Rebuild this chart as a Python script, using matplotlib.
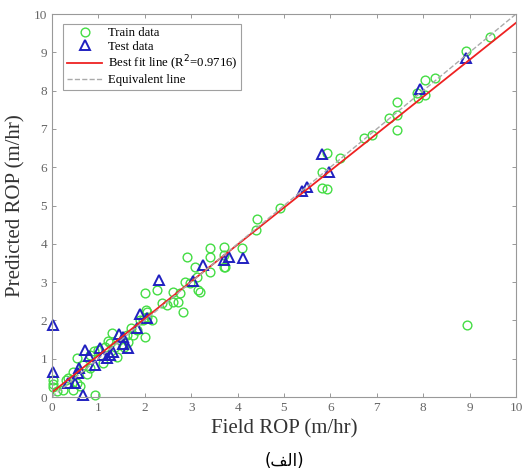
import numpy as np
import matplotlib
matplotlib.use("Agg")
import matplotlib.pyplot as plt

# train data (green circles)
train_x = [0.02, 0.02, 0.24, 0.45, 0.53, 0.34, 0.54, 0.67, 0.82, 0.92, 0.82, 1.0, 1.14, 1.25,
           1.29, 1.4, 1.64, 1.62, 1.83, 1.75, 1.9, 2.04, 2.0, 2.15, 2.04, 2.0, 2.26, 2.48, 2.6,
           2.76, 2.82, 2.9, 2.98, 3.19, 3.12, 3.08, 3.15, 2.87, 2.61, 2.72, 2.37, 2.03, 1.96,
           3.4, 3.4, 3.4, 3.7, 3.7, 3.7, 4.1, 3.73, 4.42, 4.4, 4.91, 5.82, 5.93, 5.82, 5.93,
           6.2, 6.72, 6.9, 7.26, 7.43, 7.43, 7.43, 7.89, 8.04, 7.87, 8.04, 8.25, 8.92, 9.44,
           8.94, 0.6, 0.75, 1.1, 1.2, 1.35, 0.9, 0.45, 0.1, 0.3, 1.55, 1.7, 0.02]
train_y = [0.44, 0.26, 0.18, 0.18, 0.37, 0.5, 1.02, 0.84, 0.76, 0.05, 1.1, 1.23, 1.31, 1.41,
           1.67, 1.05, 1.44, 1.62, 1.75, 1.62, 2.01, 2.1, 1.57, 2.01, 2.22, 2.72, 2.79, 2.4, 2.48,
           2.72, 2.22, 3.66, 2.98, 2.74, 3.13, 3.4, 2.79, 3.0, 2.74, 2.48, 2.45, 2.27, 2.0,
           3.89, 3.66, 3.27, 3.92, 3.7, 3.4, 3.89, 3.4, 4.64, 4.36, 4.93, 5.45, 5.42, 5.88, 6.37,
           6.24, 6.77, 6.84, 7.28, 7.7, 6.97, 7.36, 7.8, 7.88, 7.94, 8.28, 8.33, 9.03, 9.4,
           1.88, 0.3, 0.6, 0.9, 1.45, 1.3, 1.2, 0.65, 0.15, 0.45, 1.3, 1.8, 0.35]

# test data (blue triangles)
test_x = [0.02, 0.02, 0.34, 0.5, 0.56, 0.58, 0.67, 0.71, 0.8, 0.93, 1.03, 1.1, 1.18, 1.25,
          1.32, 1.44, 1.53, 1.53, 1.64, 1.83, 1.9, 2.05, 2.31, 3.04, 3.25, 3.7, 3.81, 4.12,
          5.39, 5.5, 5.82, 5.97, 7.93, 8.92]
test_y = [1.88, 0.65, 0.37, 0.37, 0.63, 0.76, 0.05, 1.23, 1.07, 0.84, 1.28, 1.1, 1.02, 1.1,
          1.18, 1.64, 1.57, 1.38, 1.28, 1.8, 2.17, 2.06, 3.05, 3.03, 3.45, 3.57, 3.66, 3.63,
          5.38, 5.48, 6.34, 5.87, 8.04, 8.85]

fit_slope = 0.965
fit_intercept = 0.12
r2 = 0.9716

plt.rcParams['font.family'] = ['Liberation Serif', 'DejaVu Sans']

fig = plt.figure(figsize=(5.23, 4.75), dpi=100)
ax = fig.add_axes([0.0994, 0.1642, 0.8872, 0.8063])

ax.plot(train_x, train_y, 'o', mfc='none', mec='#44dd44', ms=6.3, mew=1.0,
        clip_on=False, label='Train data')
ax.plot(test_x, test_y, '^', mfc='none', mec='#2020c0', ms=6.8, mew=1.4,
        clip_on=False, label='Test data')

xl = np.array([0, 10])
ax.plot(xl, fit_slope * xl + fit_intercept, color='#ee2222', lw=1.3,
        label='Best fit line (R$^2$=%.4f)' % r2)
ax.plot(xl, xl, '--', color='#aaaaaa', lw=1.0, label='Equivalent line')

ax.set_xlim(0, 10)
ax.set_ylim(0, 10)
ax.set_xticks(range(11))
ax.set_yticks(range(11))
ax.tick_params(direction='in', top=True, right=True, length=3, width=0.6,
               colors='#888888', labelcolor='#666666', labelsize=9.5)
for s in ax.spines.values():
    s.set_color('#999999')
    s.set_linewidth(0.8)

ax.set_xlabel('Field ROP (m/hr)', fontsize=15, color='#333333', labelpad=4)
ax.set_ylabel('Predicted ROP (m/hr)', fontsize=15, color='#333333', labelpad=6)

leg = ax.legend(loc='upper left', fontsize=9.2, frameon=True, fancybox=False,
                edgecolor='#888888', handlelength=2.8, handletextpad=0.4,
                borderpad=0.3, labelspacing=0.1, borderaxespad=0.3,
                bbox_to_anchor=(0.015, 0.985))
leg.get_frame().set_linewidth(0.8)

# caption "(الف)" written in visual order with Arabic presentation forms
fig.text(0.543, 0.03, '(\ufed2\ufedf\ufe8d)', ha='center', va='center', fontsize=12,
         family=['DejaVu Sans'])

fig.savefig('out.png', dpi=100)
